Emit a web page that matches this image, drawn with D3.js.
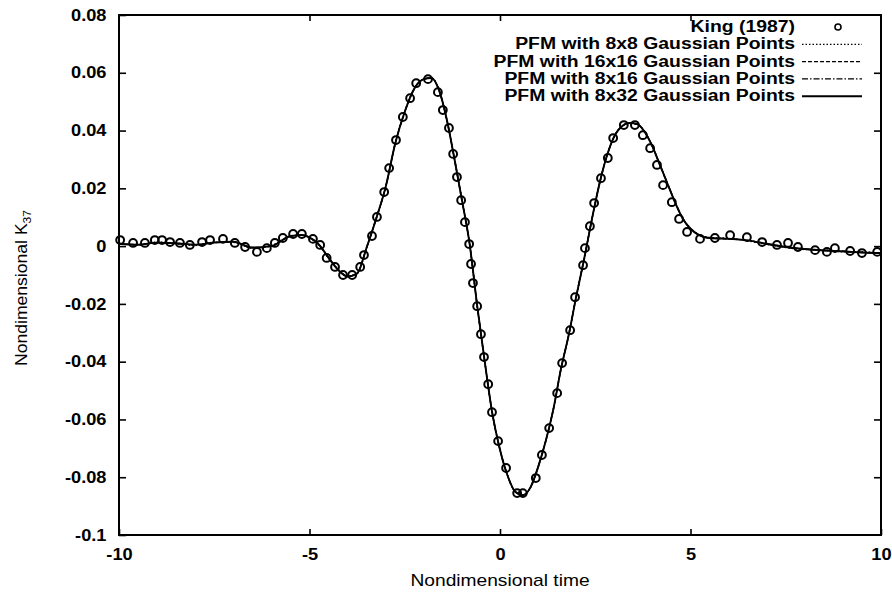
<!DOCTYPE html>
<html>
<head>
<meta charset="utf-8">
<script src="https://cdn.jsdelivr.net/npm/d3@7"></script>
<style>
  body { margin: 0; background: #fff; }
  text { font-family: "Liberation Sans", Arial, Helvetica, sans-serif; fill: #000; }
</style>
</head>
<body>
<svg id="chart"></svg>
<script>
// King (1987) reference points
const kingTime = [-9.97, -9.63, -9.32, -9.06, -8.87, -8.66, -8.40, -8.14, -7.82, -7.61,
  -7.27, -6.96, -6.69, -6.38, -6.12, -5.91, -5.70, -5.43, -5.20, -4.91,
  -4.72, -4.55, -4.33, -4.12, -3.88, -3.67, -3.57, -3.36, -3.23, -3.04,
  -2.91, -2.73, -2.55, -2.36, -2.20, -1.89, -1.63, -1.50, -1.34, -1.23,
  -1.13, -1.02, -0.92, -0.81, -0.76, -0.71, -0.60, -0.50, -0.42, -0.31,
  -0.21, -0.05, 0.16, 0.45, 0.60, 0.94, 1.10, 1.29, 1.50, 1.63,
  1.84, 1.97, 2.18, 2.23, 2.36, 2.47, 2.65, 2.83, 2.97, 3.25,
  3.54, 3.75, 3.94, 4.12, 4.28, 4.51, 4.70, 4.91, 5.25, 5.64,
  6.04, 6.48, 6.88, 7.27, 7.56, 7.82, 8.27, 8.58, 8.79, 9.19,
  9.50, 9.90];
const kingK37 = [0.0021, 0.0011, 0.0011, 0.0021, 0.0021, 0.0014, 0.0011, 0.0004, 0.0014, 0.0021,
  0.0025, 0.0011, -0.0003, -0.0020, -0.0007, 0.0011, 0.0028, 0.0042, 0.0042, 0.0025,
  0.0004, -0.0041, -0.0072, -0.0100, -0.0100, -0.0072, -0.0031, 0.0035, 0.0101, 0.0187,
  0.0270, 0.0367, 0.0447, 0.0512, 0.0564, 0.0578, 0.0533, 0.0471, 0.0409, 0.0319,
  0.0239, 0.0159, 0.0083, 0.0007, -0.0062, -0.0128, -0.0208, -0.0305, -0.0384, -0.0478,
  -0.0575, -0.0675, -0.0768, -0.0855, -0.0855, -0.0803, -0.0723, -0.0630, -0.0509, -0.0405,
  -0.0291, -0.0177, -0.0066, -0.0007, 0.0069, 0.0149, 0.0235, 0.0305, 0.0374, 0.0419,
  0.0419, 0.0384, 0.0339, 0.0281, 0.0211, 0.0152, 0.0094, 0.0049, 0.0025, 0.0028,
  0.0038, 0.0031, 0.0014, 0.0004, 0.0011, -0.0003, -0.0014, -0.0020, -0.0007, -0.0017,
  -0.0024, -0.0020];

// PFM solutions on a common time grid
const pfmTime = [-10, -9.5, -9, -8.5, -8, -7.5, -7, -6.5, -6, -5.5,
  -5.2, -5, -4.75, -4.5, -4.25, -4, -3.75, -3.5, -3.25, -3,
  -2.75, -2.5, -2.25, -2, -1.8, -1.6, -1.4, -1.2, -1, -0.8,
  -0.6, -0.4, -0.2, 0, 0.2, 0.4, 0.6, 0.8, 1, 1.2,
  1.4, 1.6, 1.8, 2, 2.2, 2.4, 2.6, 2.8, 3, 3.2,
  3.4, 3.6, 3.8, 4, 4.2, 4.4, 4.6, 4.8, 5, 5.2,
  5.5, 6, 6.5, 7, 7.5, 8, 8.5, 9, 9.5, 10];
const pfm8x8 = [0.0010, 0.0003, 0.0014, 0.0008, 0.0002, 0.0014, 0.0013, -0.0008, 0.0002, 0.0033,
  0.0040, 0.0028, 0.0003, -0.0042, -0.0080, -0.0104, -0.0093, -0.0004, 0.0096, 0.0206,
  0.0355, 0.0465, 0.0545, 0.0578, 0.0582, 0.0540, 0.0440, 0.0305, 0.0160, 0.0010,
  -0.0205, -0.0400, -0.0580, -0.0705, -0.0795, -0.0850, -0.0862, -0.0835, -0.0765, -0.0675,
  -0.0565, -0.0425, -0.0310, -0.0175, -0.0050, 0.0085, 0.0210, 0.0310, 0.0380, 0.0415,
  0.0426, 0.0422, 0.0395, 0.0345, 0.0280, 0.0215, 0.0150, 0.0095, 0.0062, 0.0042,
  0.0030, 0.0027, 0.0018, 0.0006, -0.0005, -0.0012, -0.0013, -0.0020, -0.0020, -0.0025];
const pfm16x16 = [0.0008, 0.0005, 0.0012, 0.0010, 0.0005, 0.0012, 0.0015, -0.0005, 0.0000, 0.0035,
  0.0038, 0.0030, 0.0005, -0.0040, -0.0082, -0.0105, -0.0095, -0.0005, 0.0095, 0.0205,
  0.0355, 0.0465, 0.0545, 0.0578, 0.0582, 0.0540, 0.0440, 0.0305, 0.0160, 0.0010,
  -0.0205, -0.0400, -0.0580, -0.0705, -0.0795, -0.0850, -0.0862, -0.0835, -0.0765, -0.0675,
  -0.0565, -0.0425, -0.0310, -0.0175, -0.0050, 0.0085, 0.0210, 0.0310, 0.0380, 0.0415,
  0.0426, 0.0422, 0.0395, 0.0345, 0.0280, 0.0215, 0.0150, 0.0095, 0.0060, 0.0040,
  0.0028, 0.0025, 0.0020, 0.0008, -0.0003, -0.0010, -0.0015, -0.0018, -0.0022, -0.0024];
const pfm8x16 = [0.0009, 0.0004, 0.0013, 0.0009, 0.0004, 0.0013, 0.0014, -0.0006, 0.0001, 0.0034,
  0.0039, 0.0029, 0.0004, -0.0041, -0.0081, -0.0105, -0.0094, -0.0005, 0.0095, 0.0205,
  0.0355, 0.0465, 0.0545, 0.0578, 0.0582, 0.0540, 0.0440, 0.0305, 0.0160, 0.0010,
  -0.0205, -0.0400, -0.0580, -0.0705, -0.0795, -0.0850, -0.0862, -0.0835, -0.0765, -0.0675,
  -0.0565, -0.0425, -0.0310, -0.0175, -0.0050, 0.0085, 0.0210, 0.0310, 0.0380, 0.0415,
  0.0426, 0.0422, 0.0395, 0.0345, 0.0280, 0.0215, 0.0150, 0.0095, 0.0061, 0.0041,
  0.0029, 0.0026, 0.0019, 0.0007, -0.0004, -0.0011, -0.0014, -0.0019, -0.0021, -0.0024];
const pfm8x32 = [0.0008, 0.0005, 0.0012, 0.0010, 0.0005, 0.0012, 0.0015, -0.0005, 0.0000, 0.0035,
  0.0038, 0.0030, 0.0005, -0.0040, -0.0082, -0.0105, -0.0095, -0.0005, 0.0095, 0.0205,
  0.0355, 0.0465, 0.0545, 0.0578, 0.0582, 0.0540, 0.0440, 0.0305, 0.0160, 0.0010,
  -0.0205, -0.0400, -0.0580, -0.0705, -0.0795, -0.0850, -0.0862, -0.0835, -0.0765, -0.0675,
  -0.0565, -0.0425, -0.0310, -0.0175, -0.0050, 0.0085, 0.0210, 0.0310, 0.0380, 0.0415,
  0.0426, 0.0422, 0.0395, 0.0345, 0.0280, 0.0215, 0.0150, 0.0095, 0.0060, 0.0040,
  0.0028, 0.0025, 0.0020, 0.0008, -0.0003, -0.0010, -0.0015, -0.0018, -0.0022, -0.0024];

const xTicks = [-10, -5, 0, 5, 10];
const yTicks = [0.08, 0.06, 0.04, 0.02, 0, -0.02, -0.04, -0.06, -0.08, -0.1];
const legendLabels = ["King (1987)", "PFM with 8x8 Gaussian Points", "PFM with 16x16 Gaussian Points",
  "PFM with 8x16 Gaussian Points", "PFM with 8x32 Gaussian Points"];

const width = 892, height = 598;
const margin = {top: 15, right: 11, bottom: 63, left: 119};
const stretch = 1.14; // text in this figure runs wide

const svg = d3.select("#chart")
  .attr("width", width)
  .attr("height", height)
  .style("background", "#fff");

const xScale = d3.scaleLinear()
  .domain([-10, 10])
  .range([margin.left, width - margin.right]);

const yScale = d3.scaleLinear()
  .domain([-0.1, 0.08])
  .range([height - margin.bottom, margin.top]);

const fmt = d => String(Math.round(d * 100) / 100);

// Axes with inward ticks on all four sides
const xAxis = svg.append("g")
  .attr("transform", `translate(0,${height - margin.bottom})`)
  .call(d3.axisBottom(xScale).tickValues(xTicks).tickFormat(fmt).tickSizeInner(-6).tickSizeOuter(0).tickPadding(14));

svg.append("g")
  .attr("transform", `translate(0,${margin.top})`)
  .call(d3.axisTop(xScale).tickValues(xTicks.slice(1, -1)).tickFormat("").tickSizeInner(-6).tickSizeOuter(0));

const yAxis = svg.append("g")
  .attr("transform", `translate(${margin.left},0)`)
  .call(d3.axisLeft(yScale).tickValues(yTicks).tickFormat(fmt).tickSizeInner(-7).tickSizeOuter(0).tickPadding(11));

svg.append("g")
  .attr("transform", `translate(${width - margin.right},0)`)
  .call(d3.axisRight(yScale).tickValues(yTicks.slice(1, -1)).tickFormat("").tickSizeInner(-7).tickSizeOuter(0));

svg.selectAll(".domain").remove();
svg.selectAll(".tick line").attr("stroke", "#000").attr("stroke-width", 1.6);

xAxis.selectAll("text")
  .style("font-size", "16px").style("font-weight", "bold")
  .attr("transform", `scale(${stretch},1)`);
yAxis.selectAll("text")
  .style("font-size", "16px").style("font-weight", "bold")
  .attr("transform", `scale(${stretch},1)`);

// Plot frame
svg.append("rect")
  .attr("x", margin.left)
  .attr("y", margin.top)
  .attr("width", width - margin.left - margin.right)
  .attr("height", height - margin.top - margin.bottom)
  .attr("fill", "none")
  .attr("stroke", "#000")
  .attr("stroke-width", 2);

// Axis titles
svg.append("text")
  .attr("transform", `translate(${xScale(0)},586) scale(1.2,1)`)
  .attr("text-anchor", "middle")
  .style("font-size", "16px")
  .text("Nondimensional time");

const yTitle = svg.append("text")
  .attr("transform", `translate(27,288) rotate(-90) scale(1.1,1)`)
  .attr("text-anchor", "middle")
  .style("font-size", "16px")
  .text("Nondimensional K");
yTitle.append("tspan")
  .attr("dy", 4)
  .style("font-size", "11px")
  .text("37");

// PFM curves
const series = [
  {values: pfm8x8, dash: "1.5,2", width: 1.3},
  {values: pfm16x16, dash: "4,2", width: 1.4},
  {values: pfm8x16, dash: "6,2,1.5,2", width: 1.4},
  {values: pfm8x32, dash: null, width: 1.9}
];

const line = d3.line()
  .x(d => xScale(d[0]))
  .y(d => yScale(d[1]))
  .curve(d3.curveMonotoneX);

series.forEach(s => {
  svg.append("path")
    .datum(pfmTime.map((t, i) => [t, s.values[i]]))
    .attr("d", line)
    .attr("fill", "none")
    .attr("stroke", "#000")
    .attr("stroke-width", s.width)
    .attr("stroke-dasharray", s.dash);
});

// King (1987) circles
svg.append("g")
  .selectAll("circle")
  .data(kingTime.map((t, i) => [t, kingK37[i]]))
  .join("circle")
  .attr("cx", d => xScale(d[0]))
  .attr("cy", d => yScale(d[1]))
  .attr("r", 3.9)
  .attr("fill", "none")
  .attr("stroke", "#000")
  .attr("stroke-width", 2);

// Legend
const legend = svg.append("g");
legendLabels.forEach((label, i) => {
  const y = 32 + i * 17.3;
  legend.append("text")
    .attr("transform", `translate(795,${y}) scale(1.14,1)`)
    .attr("text-anchor", "end")
    .style("font-size", "17px")
    .style("font-weight", "bold")
    .text(label);
  if (i === 0) {
    legend.append("circle")
      .attr("cx", 838).attr("cy", y - 5).attr("r", 3)
      .attr("fill", "none").attr("stroke", "#000").attr("stroke-width", 1.6);
  } else {
    const s = series[i - 1];
    legend.append("line")
      .attr("x1", 802).attr("x2", 862)
      .attr("y1", y - 5).attr("y2", y - 5)
      .attr("stroke", "#000")
      .attr("stroke-width", s.width)
      .attr("stroke-dasharray", s.dash);
  }
});
</script>
</body>
</html>
